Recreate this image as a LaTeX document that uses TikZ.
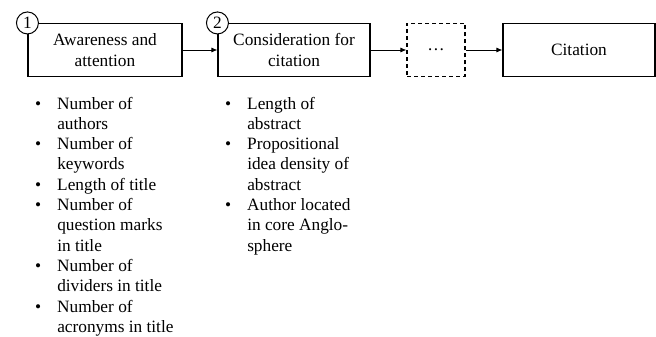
\documentclass[tikz,border=0pt]{standalone}
\usepackage{fontspec}
\setmainfont{Liberation Serif}
\usetikzlibrary{arrows.meta}
\begin{document}
\begin{tikzpicture}[x=1pt,y=-1pt,
  txt/.style={font=\fontsize{17.3}{20.5}\selectfont},
  lsttxt/.style={font=\fontsize{17.3}{20.3}\selectfont},
  stage/.style={txt, draw, line width=1.1pt, minimum height=53pt, align=center, inner sep=0pt},
  num/.style={txt, draw, circle, fill=white, line width=1pt, minimum size=22pt, inner sep=0pt},
  flow/.style={-{Latex[length=6pt,width=5pt]}, line width=0.9pt},
  lst/.style={lsttxt, anchor=base west, inner sep=0pt}]
\useasboundingbox (0,0) rectangle (656,337);
\node[stage, minimum width=154pt] (s1) at (105,50) {Awareness and\\attention};
\node[stage, minimum width=152pt] (s2) at (294,50) {Consideration for\\citation};
\node[stage, dash pattern=on 4pt off 3pt, minimum width=58pt] (s3) at (436,50) {\dots};
\node[stage, minimum width=152pt] (s4) at (579,50) {Citation};
\node[num] (c1) at (s1.north west) {1};
\node[num] (c2) at (s2.north west) {2};
\draw[flow] (s1) -- (s2);
\draw[flow] (s2) -- (s3);
\draw[flow] (s3) -- (s4);
\node[lst] (l1) at (35,109) {\renewcommand\arraystretch{1}\begin{tabular}[t]{@{}l@{\hspace{16pt}}l@{}}
\textbullet & Number of\\ & authors\\
\textbullet & Number of\\ & keywords\\
\textbullet & Length of title\\
\textbullet & Number of\\ & question marks\\ & in title\\
\textbullet & Number of\\ & dividers in title\\
\textbullet & Number of\\ & acronyms in title
\end{tabular}};
\node[lst] (l2) at (225,109) {\renewcommand\arraystretch{1}\begin{tabular}[t]{@{}l@{\hspace{16pt}}l@{}}
\textbullet & Length of\\ & abstract\\
\textbullet & Propositional\\ & idea density of\\ & abstract\\
\textbullet & Author located\\ & in core Anglo-\\ & sphere
\end{tabular}};
\end{tikzpicture}
\end{document}
